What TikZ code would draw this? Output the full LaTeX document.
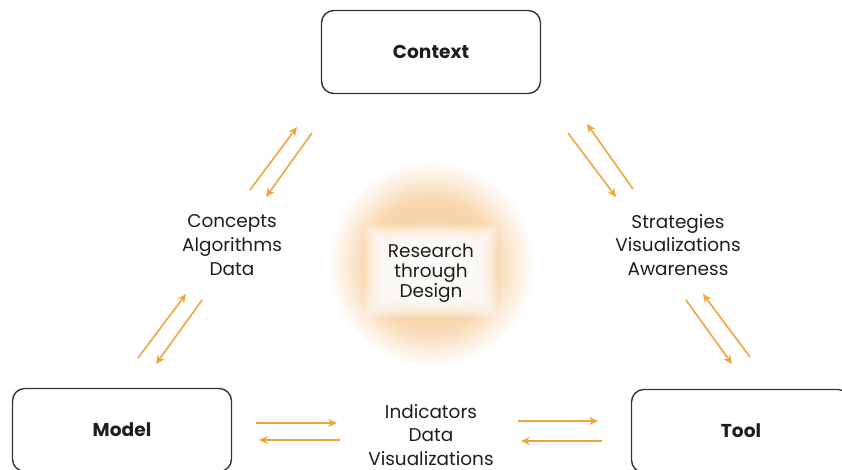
\documentclass[tikz,border=0pt]{standalone}
\usepackage{fontspec}
\setmainfont{Poppins}
\usepackage{xcolor}
\usepackage{tikz}
\usetikzlibrary{arrows.meta}

\definecolor{flow}{RGB}{240,165,60}
\definecolor{glowc}{RGB}{247,210,165}
\definecolor{ink}{RGB}{30,30,30}

\pgfdeclareradialshading{rtdglow}{\pgfpoint{0bp}{0bp}}{%
  color(0bp)=(glowc!40); color(12bp)=(glowc); color(16bp)=(glowc!85);
  color(21bp)=(glowc!35); color(25bp)=(white); color(50bp)=(white)}

\begin{document}
\begin{tikzpicture}
  [x=0.02cm,y=-0.02cm,
   every node/.style={text=ink,font=\fontsize{10.5}{13.6}\selectfont,align=center},
   corner/.style={draw=ink!90,line width=0.8pt,rounded corners=7pt,minimum width=4.38cm,minimum height=1.66cm,font=\fontsize{10.6}{12}\selectfont\bfseries},
   flowarrow/.style={draw=flow,line width=0.9pt,-{Stealth[length=5pt,width=4.5pt]}}]
  \useasboundingbox (0,0) rectangle (842,470);

  % glow behind the centre text
  \shade[shading=rtdglow] (431,264) circle (104);
  \foreach \i in {10,9,...,0}
    \fill[white,opacity=0.2] (431-46-2*\i,271-26-2*\i) rectangle (431+46+2*\i,271+26+2*\i);

  \node[corner] (ctx) at (431,52)  {Context};
  \node[corner] (mdl) at (122,430) {Model};
  \node[corner] (tool) at (741,431) {Tool};

  \node (rtd) at (431,273) [font=\fontsize{10.5}{11.4}\selectfont] {Research\\through\\Design};
  \node (cad) at (232,245) {Concepts\\Algorithms\\Data};
  \node (sva) at (678,245) {Strategies\\Visualizations\\Awareness};
  \node (idv) at (431,435) {Indicators\\Data\\Visualizations};

  % arrow ends
  \coordinate (l1a) at (250,190); \coordinate (l1b) at (297,127);
  \coordinate (l2a) at (312,133); \coordinate (l2b) at (266,197);
  \coordinate (l3a) at (138,358); \coordinate (l3b) at (186,294);
  \coordinate (l4a) at (202,300); \coordinate (l4b) at (156,364);
  \coordinate (r1a) at (568,133); \coordinate (r1b) at (616,197);
  \coordinate (r2a) at (633,189); \coordinate (r2b) at (587,124);
  \coordinate (r3a) at (686,300); \coordinate (r3b) at (732,364);
  \coordinate (r4a) at (750,357); \coordinate (r4b) at (703,294);
  \coordinate (b1a) at (256,423); \coordinate (b1b) at (337,423);
  \coordinate (b2a) at (340,440); \coordinate (b2b) at (259,440);
  \coordinate (b3a) at (518,421); \coordinate (b3b) at (598,421);
  \coordinate (b4a) at (602,441); \coordinate (b4b) at (521,441);

  \draw[flowarrow] (l1a) -- (l1b);
  \draw[flowarrow] (l2a) -- (l2b);
  \draw[flowarrow] (l3a) -- (l3b);
  \draw[flowarrow] (l4a) -- (l4b);
  \draw[flowarrow] (r1a) -- (r1b);
  \draw[flowarrow] (r2a) -- (r2b);
  \draw[flowarrow] (r3a) -- (r3b);
  \draw[flowarrow] (r4a) -- (r4b);
  \draw[flowarrow] (b1a) -- (b1b);
  \draw[flowarrow] (b2a) -- (b2b);
  \draw[flowarrow] (b3a) -- (b3b);
  \draw[flowarrow] (b4a) -- (b4b);

\end{tikzpicture}
\end{document}
